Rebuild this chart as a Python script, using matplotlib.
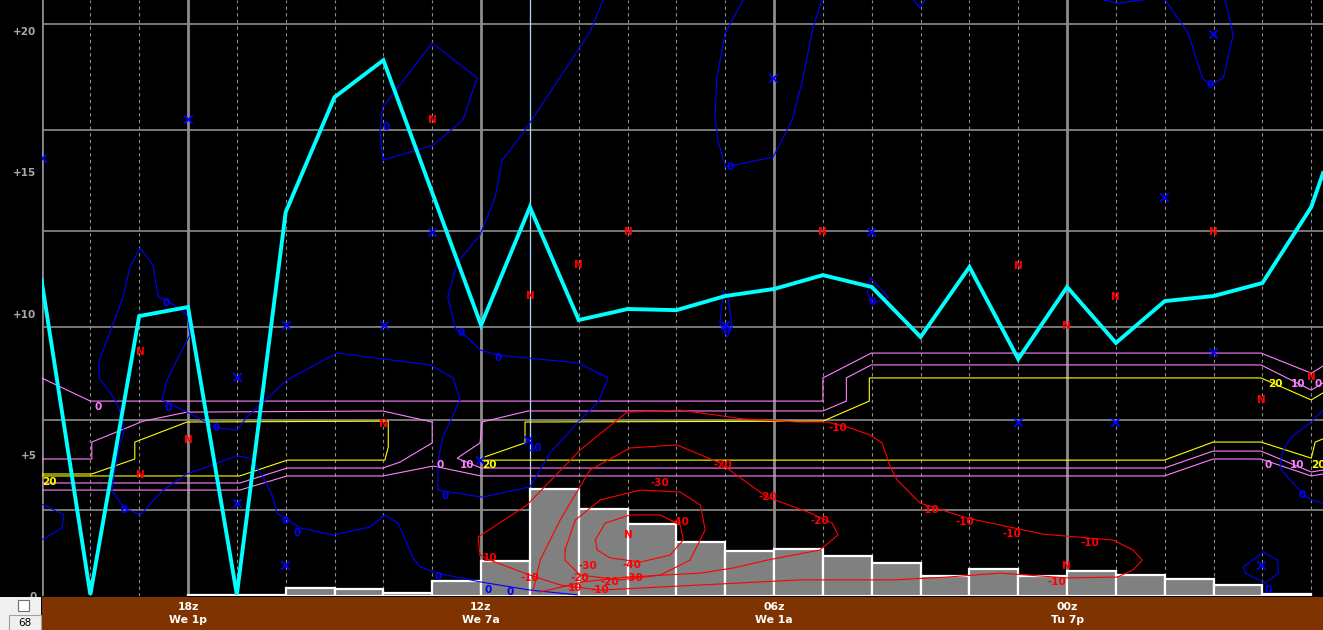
import matplotlib
matplotlib.use("Agg")
import matplotlib.pyplot as plt
from matplotlib.patches import Rectangle

# ---------------- data (x = hours after 18z, y = chart value) ----------------
hour_ticks = [0, 6, 12, 18]
tick_top = ["18z", "12z", "06z", "00z"]
tick_bottom = ["We 1p", "We 7a", "We 1a", "Tu 7p"]
y_ticks = [20, 15, 10, 5, 0]
y_tick_labels = ["+20", "+15", "+10", "+5", "0"]
level_lines = [20.25, 16.50, 12.92, 9.52, 6.23, 3.04]
major_hours = [-3, 0, 6, 12, 18]
minor_hours = [h for h in range(-2, 24) if h not in (0, 6, 12, 18)]
marker_hour = 7

cyan_h = [-3, -2, -1, 0, 1, 2, 3, 4, 6, 7, 8, 9, 10, 11, 12, 13, 14, 15, 16,
          17, 18, 19, 20, 21, 22, 23, 23.24]
cyan_v = [11.19, 0.05, 9.91, 10.23, 0.05, 13.59, 17.66, 18.97, 9.59, 13.77,
          9.77, 10.16, 10.12, 10.62, 10.87, 11.36, 10.94, 9.17, 11.65, 8.39,
          10.94, 8.96, 10.44, 10.62, 11.08, 13.77, 14.97]

bar_h = list(range(0, 23))
bar_v = [0.04, 0.04, 0.28, 0.25, 0.11, 0.53, 1.24, 3.79, 3.08, 2.55, 1.91,
         1.59, 1.66, 1.42, 1.17, 0.71, 0.96, 0.71, 0.88, 0.74, 0.60, 0.39, 0.07]

# yellow (20) contours
yellow_left = [(-3, 4.32), (-1.97, 4.32), (-1.09, 4.85), (-1.09, 5.45), (-0.02, 6.16),
               (4.10, 6.19), (4.10, 5.27), (4.03, 4.81), (2.03, 4.81), (1.06, 4.25), (-3, 4.25)]
yellow_right = [(23.24, 7.19), (23.0, 6.94), (21.97, 7.72), (13.95, 7.72), (13.95, 6.90),
                (13.0, 6.19), (6.90, 6.16), (6.90, 5.42), (6.0, 4.88), (6.0, 4.81),
                (19.99, 4.81), (20.99, 5.45), (21.97, 5.45), (23.0, 4.88), (23.08, 5.45),
                (23.24, 5.56)]
# pink (10) contours
pink10_left = [(-3, 4.85), (-1.97, 4.85), (-1.97, 5.45), (-0.92, 6.19), (-0.02, 6.51),
               (3.99, 6.55), (5.0, 6.16), (5.0, 5.42), (4.34, 4.74), (3.99, 4.53),
               (2.03, 4.53), (1.06, 4.00), (-3, 4.00)]
pink10_right = [(23.24, 7.54), (23.0, 7.29), (21.97, 8.18), (13.99, 8.18), (13.48, 7.72),
                (13.48, 6.90), (13.0, 6.55), (6.96, 6.55), (6.02, 6.16), (5.98, 5.42),
                (5.51, 4.88), (6.0, 4.53), (19.99, 4.53), (20.99, 5.13), (21.97, 5.13),
                (23.0, 4.39), (23.24, 4.46)]
# pink (0) contour, upper and lower branch
pink0_upper = [(23.24, 8.14), (23.0, 7.89), (21.97, 8.60), (13.99, 8.60), (13.0, 7.72),
               (13.0, 6.90), (-2, 6.90), (-3, 7.72)]
pink0_lower = [(-3, 3.75), (1.06, 3.75), (2.03, 4.25), (3.99, 4.25), (5.02, 4.60),
               (6.0, 4.25), (19.99, 4.25), (20.99, 4.85), (21.97, 4.85), (23.0, 4.25),
               (23.24, 4.32)]

# blue (0) contours
blue_main = [(8.50, 21.10), (8.23, 19.96), (7.62, 18.37), (6.86, 16.39), (6.43, 15.43),
             (6.29, 14.12), (5.98, 12.78), (5.51, 11.79), (5.32, 10.58), (5.47, 9.49),
             (5.71, 9.17), (5.98, 8.71), (6.33, 8.53), (7.99, 8.25), (8.60, 7.72),
             (8.40, 6.87), (7.97, 6.12), (7.41, 5.06), (7.0, 3.86), (6.02, 3.50),
             (5.12, 3.75), (5.12, 4.81), (5.22, 5.63), (5.57, 6.94), (5.43, 7.72),
             (4.96, 8.18), (3.05, 8.60), (2.03, 7.65), (1.21, 6.34), (1.0, 5.88),
             (0.59, 5.95), (-0.02, 6.51), (-0.53, 6.94), (-0.43, 7.65), (-0.23, 8.35),
             (0.04, 9.24), (-0.02, 9.95), (-0.43, 10.48), (-0.61, 10.58), (-0.72, 11.72),
             (-0.98, 12.32), (-1.19, 11.65), (-1.33, 10.58), (-1.66, 9.06), (-1.82, 8.35),
             (-1.82, 7.72), (-1.49, 6.94), (-1.35, 6.34), (-1.31, 5.81), (-1.43, 5.17),
             (-1.56, 3.75), (-1.31, 3.12), (-0.98, 2.87), (-0.51, 3.75), (-0.02, 4.32),
             (1.0, 4.96), (1.27, 4.88), (1.54, 4.21), (1.74, 3.50), (1.82, 2.94),
             (2.29, 2.41), (2.97, 2.16), (3.73, 2.44), (4.03, 2.87), (4.30, 2.58),
             (4.61, 1.35), (4.75, 1.03), (5.10, 0.81), (5.98, 0.50), (7.0, 0.21),
             (7.97, 0.04)]
blue_edge = [(-3, 3.26), (-2.54, 2.87), (-2.58, 2.41), (-3, 1.98)]
blue_top_loop = [(3.99, 15.43), (3.93, 16.50), (3.99, 17.31), (5.0, 19.58), (5.92, 18.34),
                 (5.63, 16.85), (5.02, 15.96), (3.99, 15.43)]
blue_mid_top = [(11.37, 21.10), (11.0, 19.93), (10.83, 18.37), (10.79, 16.96), (10.85, 16.14),
                (11.0, 15.19), (11.98, 15.54), (12.37, 16.85), (12.57, 18.16), (12.80, 20.14),
                (12.98, 21.10)]
blue_top_v1 = [(14.85, 21.10), (14.99, 20.82), (15.09, 21.10)]
blue_top_v2 = [(18.74, 21.10), (19.03, 20.99), (19.56, 21.10)]
blue_right_top = [(20.01, 21.10), (20.48, 19.93), (20.77, 18.34), (20.93, 18.09), (21.20, 18.34),
                  (21.40, 19.86), (21.24, 21.10)]
blue_small1 = [(10.96, 10.76), (11.06, 10.58), (11.14, 9.52), (11.04, 9.17), (10.89, 9.66),
               (10.96, 10.76)]
blue_small2 = [(13.97, 11.26), (14.34, 10.58), (14.03, 10.37), (13.91, 10.73), (13.97, 11.26)]
blue_right = [(23.24, 6.58), (23.0, 6.16), (22.57, 5.59), (22.40, 5.06), (22.36, 4.53),
              (22.57, 4.11), (22.81, 3.65), (23.0, 3.40), (23.24, 3.29)]
blue_right_loop = [(22.02, 1.56), (22.31, 1.27), (22.33, 0.81), (22.06, 0.46), (21.65, 0.81),
                   (21.61, 1.03), (22.02, 1.56)]

# red (negative) contours
red_m10 = [(5.98, 1.45), (5.94, 2.09), (6.94, 3.22), (8.03, 5.17), (8.99, 6.51),
           (10.08, 6.58), (11.37, 6.27), (12.47, 6.16), (13.09, 6.16), (13.50, 5.98),
           (13.97, 5.70), (14.21, 5.42), (14.38, 4.57), (14.52, 4.11), (14.99, 3.29),
           (15.95, 2.76), (17.51, 2.19), (18.94, 1.98), (19.35, 1.63), (19.54, 1.27),
           (19.35, 0.92), (19.03, 0.67), (18.0, 0.64), (16.63, 0.81), (15.54, 0.67),
           (14.44, 0.57), (12.53, 0.57), (10.49, 0.39), (8.44, 0.21), (7.62, 0.39),
           (7.0, 0.74), (6.18, 1.27), (5.98, 1.45)]
red_m20 = [(7.07, 0.21), (7.21, 1.27), (7.62, 2.69), (8.23, 4.46), (9.05, 5.24),
           (10.01, 5.35), (10.89, 4.71), (11.86, 3.50), (12.74, 2.94), (13.19, 2.58),
           (13.31, 2.16), (12.94, 1.63), (11.86, 1.27), (11.16, 0.99), (10.49, 0.81),
           (8.99, 0.67), (8.09, 0.50), (7.21, 0.14)]
red_m30 = [(7.72, 1.63), (7.93, 2.69), (8.44, 3.40), (9.26, 3.75), (10.08, 3.68),
           (10.49, 3.22), (10.59, 2.34), (10.28, 1.27), (9.67, 0.74), (8.85, 0.57),
           (8.03, 0.74), (7.72, 1.27), (7.72, 1.63)]
red_m40 = [(8.34, 1.98), (8.54, 2.58), (9.05, 2.87), (9.67, 2.87), (10.08, 2.51),
           (10.14, 1.98), (9.87, 1.45), (9.26, 1.20), (8.64, 1.35), (8.38, 1.63), (8.34, 1.98)]

# labels
blue_zero_pos = [(4.05, 16.60), (-0.45, 10.37), (5.59, 9.31), (6.35, 8.42), (11.10, 15.19),
                 (20.93, 18.09), (11.04, 9.42), (14.01, 10.41), (-0.41, 6.65), (0.57, 5.95),
                 (-1.31, 3.04), (2.23, 2.23), (1.99, 2.65), (5.26, 3.54), (5.12, 0.67),
                 (6.14, 0.21), (6.59, 0.14), (22.81, 3.58), (22.12, 0.21)]
blue_ten_pos = [(7.11, 5.24)]
blue_x_pos = [(-3.0, 15.5), (0, 16.88), (2, 9.59), (4.01, 9.59), (5, 12.88), (1, 7.75),
              (1, 3.29), (1.99, 1.10), (6.96, 5.52), (5.98, 4.81), (11.98, 18.34),
              (13.99, 12.88), (11, 9.59), (20.99, 19.89), (19.99, 14.12), (17, 6.16),
              (18.98, 6.16), (20.99, 8.64), (21.97, 1.10)]
red_n_pos = [(5, 16.85), (9.01, 12.88), (12.98, 12.88), (20.99, 12.88), (7.99, 11.72),
             (7.0, 10.62), (17, 11.68), (18.98, 10.58), (17.98, 9.56), (-0.98, 8.64),
             (0, 5.52), (-0.98, 4.28), (4.01, 6.09), (9.01, 2.16), (17.98, 1.06),
             (21.97, 6.94), (23, 7.75)]
pink_labels = [(-1.84, 6.69, "0"), (5.16, 4.64, "0"), (5.71, 4.64, "10"), (22.12, 4.64, "0"),
               (22.71, 4.64, "10"), (22.73, 7.50, "10"), (23.14, 7.50, "0")]
yellow_labels = [(-2.83, 4.04, "20"), (6.18, 4.64, "20"), (23.14, 4.64, "20"), (22.26, 7.50, "20")]
red_labels = [(13.31, 5.95, "-10"), (10.96, 4.64, "-20"), (11.88, 3.50, "-20"),
              (12.94, 2.65, "-20"), (15.20, 3.04, "-10"), (15.91, 2.62, "-10"),
              (16.87, 2.19, "-10"), (18.47, 1.88, "-10"), (17.80, 0.50, "-10"),
              (9.67, 4.00, "-30"), (10.08, 2.62, "-40"), (8.19, 1.06, "-30"),
              (9.09, 1.10, "-40"), (9.13, 0.64, "-30"), (8.64, 0.50, "-20"),
              (8.03, 0.64, "-20"), (7.0, 0.64, "-10"), (8.44, 0.21, "-10"),
              (7.93, 0.28, "10"), (6.18, 1.35, "10")]
station_number = "68"

# ---------------- figure ----------------
W, H = 1323, 630
fig = plt.figure(figsize=(W / 100, H / 100), dpi=100, facecolor="black")
ax = fig.add_axes([42 / W, 34 / H, 1281 / W, 596 / H])
ax.set_facecolor("black")
ax.set_xlim(-2.99, 23.24)
ax.set_ylim(0, 21.10)
for s in ax.spines.values():
    s.set_visible(False)
ax.set_xticks([])
ax.set_yticks(y_ticks)
ax.set_yticklabels(y_tick_labels)
ax.tick_params(axis="y", length=0, pad=4, labelcolor="#a8a8a8", labelsize=7.5)
for t in ax.get_yticklabels():
    t.set_fontweight("bold")

grid_c = "#8c8c8c"
for lv in level_lines:
    ax.axhline(lv, color=grid_c, lw=1.2, zorder=1)
for h in major_hours:
    ax.axvline(h, color=grid_c, lw=2.0, zorder=1)
for h in minor_hours:
    ax.axvline(h, color=grid_c, lw=0.8, ls=(0, (3, 3)), zorder=1)
ax.axvline(marker_hour, color="#a8d8ff", lw=0.9, zorder=1.5)

# bars
ax.bar(bar_h, bar_v, width=1.0, align="edge", color="#808080",
       edgecolor="white", linewidth=1.6, zorder=2)


def draw(pts, color, lw=0.8, z=3):
    xs = [p[0] for p in pts]
    ys = [p[1] for p in pts]
    ax.plot(xs, ys, color=color, lw=lw, zorder=z, solid_joinstyle="miter")


pink = "#ff80ff"
yellow = "#ffff00"
blue = "#0000ff"
red = "#ff0000"
for c in (pink0_upper, pink0_lower, pink10_left, pink10_right):
    draw(c, pink)
for c in (yellow_left, yellow_right):
    draw(c, yellow)
for c in (blue_main, blue_edge, blue_top_loop, blue_mid_top, blue_top_v1, blue_top_v2,
          blue_right_top, blue_small1, blue_small2, blue_right, blue_right_loop):
    draw(c, blue)
for c in (red_m10, red_m20, red_m30, red_m40):
    draw(c, red)

# cyan line
ax.plot(cyan_h, cyan_v, color="#00ffff", lw=2.8, zorder=4, solid_joinstyle="miter")

lab_kw = dict(fontsize=7.5, fontweight="bold", ha="center", va="center", zorder=5)
for (x, y) in blue_zero_pos:
    ax.text(x, y, "0", color=blue, **lab_kw)
for (x, y) in blue_ten_pos:
    ax.text(x, y, "10", color=blue, **lab_kw)
for (x, y, s) in pink_labels:
    ax.text(x, y, s, color=pink, **lab_kw)
for (x, y, s) in yellow_labels:
    ax.text(x, y, s, color=yellow, **lab_kw)
for (x, y, s) in red_labels:
    ax.text(x, y, s, color=red, **lab_kw)
for (x, y) in red_n_pos:
    ax.text(x, y, "N", color=red, **lab_kw)
ax.scatter([p[0] for p in blue_x_pos], [p[1] for p in blue_x_pos], marker="x",
           s=36, c=blue, linewidths=1.3, zorder=5)

# bottom time band
band = fig.add_axes([42 / W, 0, 1281 / W, 33 / H])
band.set_facecolor("#7f3300")
band.set_xlim(-2.99, 23.24)
band.set_ylim(33, 0)
band.set_xticks([])
band.set_yticks([])
for s in band.spines.values():
    s.set_visible(False)
for h, t1, t2 in zip(hour_ticks, tick_top, tick_bottom):
    band.text(h, 10, t1, color="white", fontsize=7.8, fontweight="bold",
              ha="center", va="center")
    band.text(h, 23, t2, color="white", fontsize=7.8, fontweight="bold",
              ha="center", va="center")

# bottom-left control box
fig.patches.append(Rectangle((0, 0), 41 / W, 33 / H, transform=fig.transFigure,
                             facecolor="#f0f0f0", edgecolor="none"))
fig.patches.append(Rectangle((18 / W, 19 / H), 11 / W, 11 / H, transform=fig.transFigure,
                             facecolor="white", edgecolor="#707070", lw=0.8))
fig.patches.append(Rectangle((9 / W, 0), 32 / W, 15 / H, transform=fig.transFigure,
                             facecolor="#f0f0f0", edgecolor="#a0a0a0", lw=0.8))
fig.text(25 / W, 7 / H, station_number, color="black", fontsize=7.5,
         ha="center", va="center")

fig.savefig("out.png", dpi=100, facecolor="black")
